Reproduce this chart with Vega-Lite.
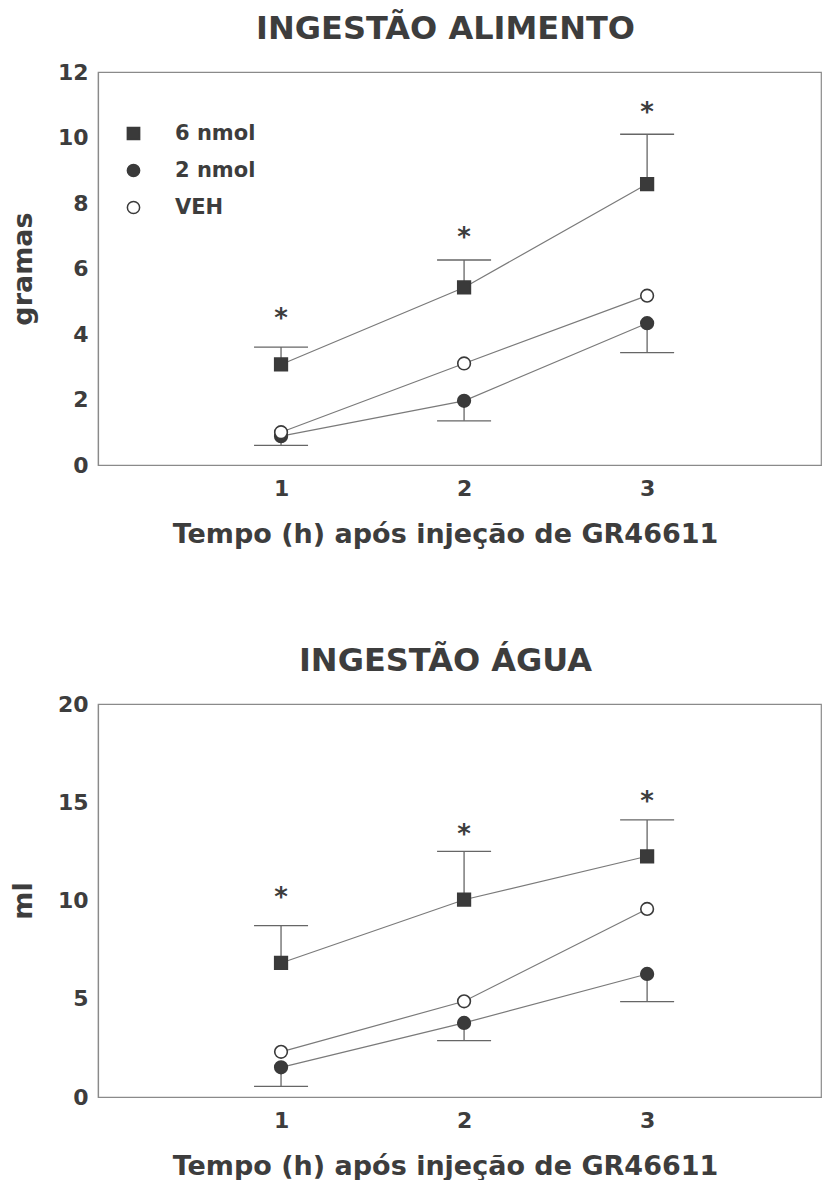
{
  "$schema": "https://vega.github.io/schema/vega-lite/v6.json",
  "background": "white",
  "padding": {"left": 8, "top": 12, "right": 0, "bottom": 0},
  "spacing": 96,
  "config": {
    "font": "DejaVu Sans",
    "view": {"stroke": "#8a8a8a", "strokeWidth": 1.2},
    "axis": {
      "labelFont": "DejaVu Sans", "labelFontWeight": "bold", "labelFontSize": 22, "labelColor": "#3d3d3d",
      "titleFont": "DejaVu Sans", "titleFontWeight": "bold", "titleFontSize": 27, "titleColor": "#3d3d3d",
      "ticks": false, "grid": false, "domainColor": "#8a8a8a", "domainWidth": 1.2
    },
    "legend": {"labelFont": "DejaVu Sans"},
    "title": {"font": "DejaVu Sans", "fontSize": 32, "fontWeight": "bold", "color": "#3d3d3d"}
  },
  "datasets": {
    "d": [
      {"panel": "alimento", "series": "6 nmol", "hour": 1, "mean": 3.07, "err": 3.6, "star": 4.64},
      {"panel": "alimento", "series": "6 nmol", "hour": 2, "mean": 5.42, "err": 6.26, "star": 7.12},
      {"panel": "alimento", "series": "6 nmol", "hour": 3, "mean": 8.58, "err": 10.1, "star": 10.94},
      {"panel": "alimento", "series": "2 nmol", "hour": 1, "mean": 0.88, "err": 0.6},
      {"panel": "alimento", "series": "2 nmol", "hour": 2, "mean": 1.96, "err": 1.35},
      {"panel": "alimento", "series": "2 nmol", "hour": 3, "mean": 4.33, "err": 3.43},
      {"panel": "alimento", "series": "VEH", "hour": 1, "mean": 1.0},
      {"panel": "alimento", "series": "VEH", "hour": 2, "mean": 3.1},
      {"panel": "alimento", "series": "VEH", "hour": 3, "mean": 5.17},
      {"panel": "agua", "series": "6 nmol", "hour": 1, "mean": 6.82, "err": 8.72, "star": 10.45},
      {"panel": "agua", "series": "6 nmol", "hour": 2, "mean": 10.04, "err": 12.5, "star": 13.64},
      {"panel": "agua", "series": "6 nmol", "hour": 3, "mean": 12.25, "err": 14.1, "star": 15.33},
      {"panel": "agua", "series": "2 nmol", "hour": 1, "mean": 1.51, "err": 0.54},
      {"panel": "agua", "series": "2 nmol", "hour": 2, "mean": 3.77, "err": 2.87},
      {"panel": "agua", "series": "2 nmol", "hour": 3, "mean": 6.26, "err": 4.85},
      {"panel": "agua", "series": "VEH", "hour": 1, "mean": 2.3},
      {"panel": "agua", "series": "VEH", "hour": 2, "mean": 4.87},
      {"panel": "agua", "series": "VEH", "hour": 3, "mean": 9.57}
    ]
  },
  "vconcat": [
    {
      "title": {"text": "INGESTÃO ALIMENTO", "offset": 15, "dx": -14},
      "width": 723,
      "height": 393,
      "data": {"name": "d"},
      "transform": [{"filter": "datum.panel == 'alimento'"}],
      "encoding": {
        "x": {"field": "hour", "type": "quantitative", "scale": {"domain": [0, 3.95], "nice": false},
              "axis": {"values": [1, 2, 3], "title": "Tempo (h) após injeção de GR46611", "labelPadding": 13, "titlePadding": 22, "titleX": 347}}
      },
      "layer": [
        {
          "mark": {"type": "line", "color": "#7a7a7a", "strokeWidth": 1.2},
          "encoding": {
            "y": {"field": "mean", "type": "quantitative", "scale": {"domain": [0, 12], "nice": false},
                  "axis": {"values": [0, 2, 4, 6, 8, 10, 12], "title": "gramas", "labelPadding": 10, "titlePadding": 20}},
            "detail": {"field": "series"}
          }
        },
        {
          "transform": [{"filter": "isValid(datum.err)"}],
          "mark": {"type": "rule", "color": "#666666", "strokeWidth": 1.3},
          "encoding": {"y": {"field": "mean", "type": "quantitative"}, "y2": {"field": "err"}}
        },
        {
          "transform": [{"filter": "isValid(datum.err)"}],
          "mark": {"type": "tick", "orient": "horizontal", "color": "#666666", "thickness": 1.3, "size": 54, "opacity": 1},
          "encoding": {"y": {"field": "err", "type": "quantitative"}}
        },
        {
          "mark": {"type": "point", "filled": true, "stroke": "#3a3a3a", "strokeWidth": 1.6, "opacity": 1, "size": 160},
          "encoding": {
            "y": {"field": "mean", "type": "quantitative"},
            "shape": {"field": "series", "type": "nominal",
                      "scale": {"domain": ["6 nmol", "2 nmol", "VEH"], "range": ["square", "circle", "circle"]},
                      "legend": {"orient": "none", "legendX": 25, "legendY": 51, "title": null, "labelFontSize": 21, "labelFontWeight": "bold", "labelColor": "#3d3d3d", "labelOffset": 31, "rowPadding": 15, "symbolSize": 150,
                                 "encode": {"symbols": {"update": {"stroke": {"value": "#3a3a3a"}, "strokeWidth": {"value": 1.6}}}}}},
            "fill": {"field": "series", "type": "nominal",
                     "scale": {"domain": ["6 nmol", "2 nmol", "VEH"], "range": ["#3a3a3a", "#3a3a3a", "#ffffff"]},
                     "legend": {"orient": "none", "legendX": 25, "legendY": 51, "title": null, "labelFontSize": 21, "labelFontWeight": "bold", "labelColor": "#3d3d3d", "labelOffset": 31, "rowPadding": 15, "symbolSize": 150,
                                "encode": {"symbols": {"update": {"stroke": {"value": "#3a3a3a"}, "strokeWidth": {"value": 1.6}}}}}}
          }
        },
        {
          "transform": [{"filter": "isValid(datum.star)"}],
          "mark": {"type": "text", "text": "*", "fontSize": 26, "fontWeight": "bold", "color": "#3d3d3d", "dy": 6, "baseline": "middle"},
          "encoding": {"y": {"field": "star", "type": "quantitative"}}
        }
      ]
    },
    {
      "title": {"text": "INGESTÃO ÁGUA", "offset": 15, "dx": -14},
      "width": 723,
      "height": 393,
      "data": {"name": "d"},
      "transform": [{"filter": "datum.panel == 'agua'"}],
      "encoding": {
        "x": {"field": "hour", "type": "quantitative", "scale": {"domain": [0, 3.95], "nice": false},
              "axis": {"values": [1, 2, 3], "title": "Tempo (h) após injeção de GR46611", "labelPadding": 13, "titlePadding": 22, "titleX": 347}}
      },
      "layer": [
        {
          "mark": {"type": "line", "color": "#7a7a7a", "strokeWidth": 1.2},
          "encoding": {
            "y": {"field": "mean", "type": "quantitative", "scale": {"domain": [0, 20], "nice": false},
                  "axis": {"values": [0, 5, 10, 15, 20], "title": "ml", "labelPadding": 10, "titlePadding": 20}},
            "detail": {"field": "series"}
          }
        },
        {
          "transform": [{"filter": "isValid(datum.err)"}],
          "mark": {"type": "rule", "color": "#666666", "strokeWidth": 1.3},
          "encoding": {"y": {"field": "mean", "type": "quantitative"}, "y2": {"field": "err"}}
        },
        {
          "transform": [{"filter": "isValid(datum.err)"}],
          "mark": {"type": "tick", "orient": "horizontal", "color": "#666666", "thickness": 1.3, "size": 54, "opacity": 1},
          "encoding": {"y": {"field": "err", "type": "quantitative"}}
        },
        {
          "mark": {"type": "point", "filled": true, "stroke": "#3a3a3a", "strokeWidth": 1.6, "opacity": 1, "size": 160},
          "encoding": {
            "y": {"field": "mean", "type": "quantitative"},
            "shape": {"field": "series", "type": "nominal",
                      "scale": {"domain": ["6 nmol", "2 nmol", "VEH"], "range": ["square", "circle", "circle"]}},
            "fill": {"field": "series", "type": "nominal",
                     "scale": {"domain": ["6 nmol", "2 nmol", "VEH"], "range": ["#3a3a3a", "#3a3a3a", "#ffffff"]}}
          }
        },
        {
          "transform": [{"filter": "isValid(datum.star)"}],
          "mark": {"type": "text", "text": "*", "fontSize": 26, "fontWeight": "bold", "color": "#3d3d3d", "dy": 6, "baseline": "middle"},
          "encoding": {"y": {"field": "star", "type": "quantitative"}}
        }
      ]
    }
  ]
}
